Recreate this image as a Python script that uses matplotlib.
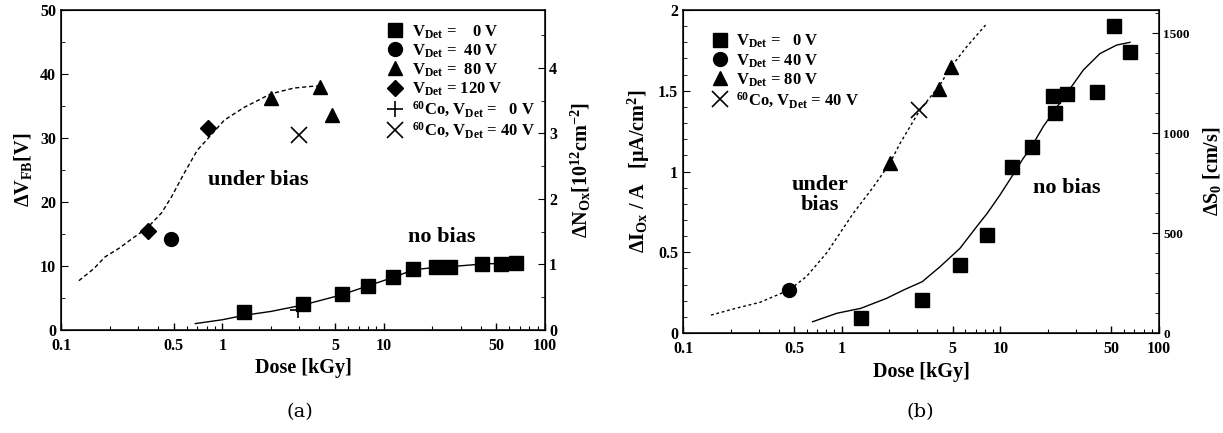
import matplotlib
matplotlib.use("Agg")
import matplotlib.pyplot as plt
from matplotlib.ticker import FixedLocator, MultipleLocator, NullFormatter, LogLocator

plt.rcParams["font.family"] = ["Liberation Serif", "DejaVu Serif"]
plt.rcParams["font.weight"] = "bold"
plt.rcParams["mathtext.fontset"] = "custom"
plt.rcParams["mathtext.rm"] = "Liberation Serif:bold"
plt.rcParams["mathtext.it"] = "Liberation Serif:italic:bold"
plt.rcParams["mathtext.bf"] = "Liberation Serif:bold"

# ---------------- panel (a): flat-band voltage shift ----------------
a_sq_dose = [1.37, 3.16, 5.5, 8.0, 11.4, 15.3, 21.2, 25.9, 40.8, 53.5, 66.0]
a_sq_dv = [2.8, 4.1, 5.6, 6.9, 8.3, 9.5, 9.8, 9.9, 10.3, 10.3, 10.4]
a_circ_dose = [0.478]
a_circ_dv = [14.2]
a_tri_dose = [2.0, 4.02, 4.77]
a_tri_dv = [36.2, 38.0, 33.6]
a_dia_dose = [0.344, 0.82]
a_dia_dv = [15.5, 31.5]
a_co0_dose = [2.94]
a_co0_dv = [3.1]
a_co40_dose = [3.0]
a_co40_dv = [30.5]

a_fit_nobias_dose = [0.68, 1.0, 1.37, 2.0, 3.16, 5.5, 8.0, 11.4, 15.3, 21.2, 25.9, 40.8, 66.0]
a_fit_nobias_dv = [1.0, 1.6, 2.3, 2.9, 3.9, 5.5, 6.9, 8.2, 9.4, 9.8, 9.9, 10.3, 10.5]
a_fit_bias_dose = [0.129, 0.16, 0.187, 0.23, 0.27, 0.344, 0.42, 0.484, 0.58, 0.70,
                   0.82, 1.03, 1.37, 2.0, 2.78, 3.7, 4.0]
a_fit_bias_dv = [7.7, 9.6, 11.4, 12.8, 14.1, 16.0, 18.3, 20.8, 24.5, 28.1,
                 30.0, 32.8, 34.8, 36.9, 37.8, 38.1, 38.1]

# ---------------- panel (b): oxide current / surface velocity ----------------
b_sq_dose = [1.32, 3.2, 5.56, 8.2, 11.8, 15.8, 21.4, 22.1, 26.3, 40.6, 52.0, 65.6]
b_sq_di = [0.093, 0.204, 0.42, 0.607, 1.03, 1.15, 1.47, 1.36, 1.48, 1.49, 1.90, 1.74]
b_circ_dose = [0.466]
b_circ_di = [0.266]
b_tri_dose = [2.01, 4.1, 4.89]
b_tri_di = [1.05, 1.51, 1.65]
b_co40_dose = [3.07]
b_co40_di = [1.38]

b_fit_nobias_dose = [0.656, 0.93, 1.32, 1.92, 2.45, 3.22, 4.16, 5.56, 7.08, 8.26, 9.93,
                     11.8, 13.9, 15.7, 18.6, 21.3, 26.2, 33.3, 42.4, 54.1, 65.6]
b_fit_nobias_di = [0.07, 0.122, 0.153, 0.215, 0.266, 0.318, 0.41, 0.524, 0.658, 0.741, 0.854,
                   0.968, 1.08, 1.153, 1.277, 1.36, 1.484, 1.628, 1.73, 1.783, 1.80]
b_fit_bias_dose = [0.15, 0.219, 0.305, 0.466, 0.6, 0.81, 1.18, 1.57, 2.01, 2.33, 3.11,
                   4.16, 4.82, 6.14, 8.07]
b_fit_bias_di = [0.111, 0.155, 0.19, 0.266, 0.35, 0.50, 0.74, 0.90, 1.05, 1.174, 1.38,
                 1.536, 1.64, 1.773, 1.907]

dose_ticks = [0.1, 0.5, 1, 5, 10, 50, 100]
dose_labels = ["0.1", "0.5", "1", "5", "10", "50", "100"]

TICK_FS = 11.5
LABEL_FS = 14.5
LEG_FS = 12
NOTE_FS = 16

fig = plt.figure(figsize=(12.23, 4.33), dpi=100)
axA = fig.add_axes([0.0499, 0.2379, 0.3957, 0.7391])
axB = fig.add_axes([0.5585, 0.2309, 0.3892, 0.7460])


def style_dose_axis(ax):
    ax.set_xscale("log")
    ax.set_xlim(0.1, 100)
    ax.xaxis.set_major_locator(FixedLocator(dose_ticks))
    ax.set_xticklabels(dose_labels)
    ax.xaxis.set_minor_locator(LogLocator(base=10, subs=(2, 3, 4, 6, 7, 8, 9)))
    ax.xaxis.set_minor_formatter(NullFormatter())
    ax.tick_params(axis="x", which="major", direction="in", length=5, width=1.0,
                   labelsize=TICK_FS, pad=6, top=False)
    ax.tick_params(axis="x", which="minor", direction="in", length=3, width=0.8, top=False)
    ax.set_xlabel("Dose [kGy]", fontsize=LABEL_FS, fontweight="bold", labelpad=3)
    for s in ax.spines.values():
        s.set_linewidth(1.1)


mk = dict(color="black", linestyle="none")

# ---- panel (a)
style_dose_axis(axA)
axA.set_ylim(0, 50)
axA.yaxis.set_major_locator(MultipleLocator(10))
axA.yaxis.set_minor_locator(MultipleLocator(5))
axA.tick_params(axis="y", which="major", direction="in", length=5, labelsize=TICK_FS, right=False)
axA.tick_params(axis="y", which="minor", direction="in", length=3, right=False)
axA.set_ylabel(r"$\Delta$V$_{\rm FB}$[V]", fontsize=LABEL_FS, fontweight="bold", labelpad=4)

axA.plot(a_fit_nobias_dose, a_fit_nobias_dv, color="black", lw=1.0)
axA.plot(a_fit_bias_dose, a_fit_bias_dv, color="black", lw=1.0, linestyle=(0, (3, 2)))
axA.plot(a_sq_dose, a_sq_dv, marker="s", ms=10, label=r"V$_{\rm Det}$ =    0 V", **mk)
axA.plot(a_circ_dose, a_circ_dv, marker="o", ms=10, label=r"V$_{\rm Det}$ =  40 V", **mk)
axA.plot(a_tri_dose, a_tri_dv, marker="^", ms=10, label=r"V$_{\rm Det}$ =  80 V", **mk)
axA.plot(a_dia_dose, a_dia_dv, marker="D", ms=8, label=r"V$_{\rm Det}$ = 120 V", **mk)
axA.plot(a_co0_dose, a_co0_dv, marker="+", ms=12, mew=1.2,
         label=r"$^{60}$Co, V$_{\rm Det}$ =   0 V", **mk)
axA.plot(a_co40_dose, a_co40_dv, marker="x", ms=11, mew=1.2,
         label=r"$^{60}$Co, V$_{\rm Det}$ = 40 V", **mk)
axA.legend(loc="upper right", frameon=False, fontsize=LEG_FS, handlelength=1.0,
           handletextpad=0.5, labelspacing=0.1, borderaxespad=0.2,
           bbox_to_anchor=(1.0, 0.99))

axA.text(0.407, 0.47, "under bias", transform=axA.transAxes, fontsize=NOTE_FS,
         fontweight="bold", ha="center", va="center")
axA.text(0.787, 0.29, "no bias", transform=axA.transAxes, fontsize=NOTE_FS,
         fontweight="bold", ha="center", va="center")

axA2 = axA.twinx()
axA2.set_ylim(0, 4.885)
axA2.yaxis.set_major_locator(MultipleLocator(1))
axA2.yaxis.set_minor_locator(MultipleLocator(0.5))
axA2.tick_params(axis="y", which="major", direction="in", length=5, labelsize=TICK_FS, pad=3)
axA2.tick_params(axis="y", which="minor", direction="in", length=3)
axA2.set_ylabel(r"$\Delta$N$_{\rm Ox}$[10$^{12}$cm$^{-2}$]", fontsize=LABEL_FS,
                fontweight="bold", labelpad=8)

# ---- panel (b)
style_dose_axis(axB)
axB.set_ylim(0, 2)
axB.yaxis.set_major_locator(FixedLocator([0, 0.5, 1, 1.5, 2]))
axB.set_yticklabels(["0", "0.5", "1", "1.5", "2"])
axB.yaxis.set_minor_locator(MultipleLocator(0.1))
axB.tick_params(axis="y", which="major", direction="in", length=5, labelsize=TICK_FS, right=False)
axB.tick_params(axis="y", which="minor", direction="in", length=3, right=False)
axB.set_ylabel("$\\Delta$I$_{\\rm Ox}$ / A   [\u00b5A/cm$^{2}$]", fontsize=LABEL_FS,
               fontweight="bold", labelpad=4)

axB.plot(b_fit_nobias_dose, b_fit_nobias_di, color="black", lw=1.0)
axB.plot(b_fit_bias_dose, b_fit_bias_di, color="black", lw=1.0, linestyle=(0, (2, 2)))
axB.plot(b_sq_dose, b_sq_di, marker="s", ms=10, label=r"V$_{\rm Det}$ =   0 V", **mk)
axB.plot(b_circ_dose, b_circ_di, marker="o", ms=10, label=r"V$_{\rm Det}$ = 40 V", **mk)
axB.plot(b_tri_dose, b_tri_di, marker="^", ms=10, label=r"V$_{\rm Det}$ = 80 V", **mk)
axB.plot(b_co40_dose, b_co40_di, marker="x", ms=11, mew=1.2,
         label=r"$^{60}$Co, V$_{\rm Det}$ = 40 V", **mk)
axB.legend(loc="upper left", frameon=False, fontsize=LEG_FS, handlelength=1.0,
           handletextpad=0.5, labelspacing=0.1, bbox_to_anchor=(0.028, 0.975))

axB.text(0.288, 0.427, "under\nbias", transform=axB.transAxes, fontsize=NOTE_FS,
         fontweight="bold", ha="center", va="center", linespacing=1.0)
axB.text(0.807, 0.449, "no bias", transform=axB.transAxes, fontsize=NOTE_FS,
         fontweight="bold", ha="center", va="center")

axB2 = axB.twinx()
axB2.set_ylim(0, 1615)
axB2.yaxis.set_major_locator(MultipleLocator(500))
axB2.yaxis.set_minor_locator(MultipleLocator(100))
axB2.tick_params(axis="y", which="major", direction="in", length=5, labelsize=TICK_FS - 2, pad=3)
axB2.tick_params(axis="y", which="minor", direction="in", length=3)
axB2.set_ylabel(r"$\Delta$S$_0$ [cm/s]", fontsize=LABEL_FS, fontweight="bold", labelpad=8)

fig.text(0.2453, 0.048, "(a)", fontsize=14, fontweight="normal",
         family=["DejaVu Serif"], ha="center", va="center")
fig.text(0.7525, 0.048, "(b)", fontsize=14, fontweight="normal",
         family=["DejaVu Serif"], ha="center", va="center")

fig.savefig("out.png", dpi=100)
